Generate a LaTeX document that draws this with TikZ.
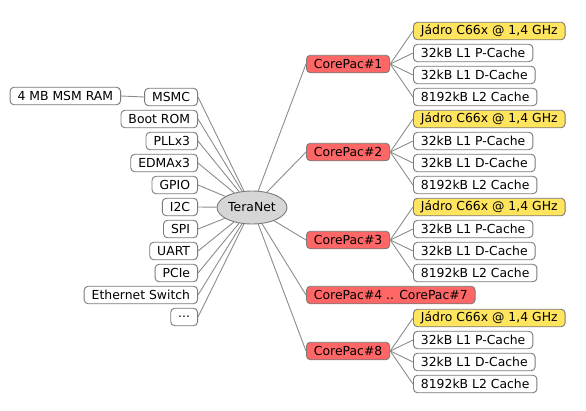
\documentclass[tikz,border=0pt]{standalone}
\usepackage{fontspec}
\setmainfont{DejaVu Sans}
\usepackage{tikz}
\usetikzlibrary{positioning,shapes.geometric}
\definecolor{linegray}{HTML}{8C8C8C}
\definecolor{boxgray}{HTML}{7A7A7A}
\definecolor{corered}{HTML}{FF6666}
\definecolor{jadroyellow}{HTML}{FFE45E}
\definecolor{rootgray}{HTML}{D6D6D6}
\tikzset{
    block/.style = {
        draw=boxgray,
        fill=white,
        shape=rectangle,
        rounded corners=4pt,
        minimum height=17.5pt,
        inner xsep=7.5pt,
        inner ysep=0pt,
        line width=0.9pt,
        font=\fontsize{12.4}{14}\selectfont
    },
    core/.style = {
        block,
        fill=corered
    },
    jadro/.style = {
        block,
        fill=jadroyellow
    },
    root/.style = {
        draw=boxgray,
        fill=rootgray,
        shape=ellipse,
        minimum width=70pt,
        minimum height=33pt,
        inner sep=0pt,
        line width=0.9pt,
        font=\fontsize{12.4}{14}\selectfont
    },
    edge/.style = {
        draw=linegray,
        line width=0.9pt
    },
}
\begin{document}
\begin{tikzpicture}[x=1pt,y=-1pt]
                \useasboundingbox (0,0) rectangle (586,410);

                \node[root] (teranet) at (252,207.5) {TeraNet};

                % left side
                \node[block,anchor=east] (msmc) at (198,97) {MSMC};
                \node[block,anchor=east] (msmram) at (121,96) {4 MB MSM RAM};
                \node[block,anchor=east] (bootrom) at (198,119) {Boot ROM};
                \node[block,anchor=east] (pll) at (198,141) {PLLx3};
                \node[block,anchor=east] (edma) at (198,163) {EDMAx3};
                \node[block,anchor=east] (gpio) at (198,185) {GPIO};
                \node[block,anchor=east] (itwoc) at (198,207) {I2C};
                \node[block,anchor=east] (spi) at (198,229) {SPI};
                \node[block,anchor=east] (uart) at (198,251) {UART};
                \node[block,anchor=east] (pcie) at (198,273) {PCIe};
                \node[block,anchor=east] (eth) at (198,295) {Ethernet Switch};
                \node[block,anchor=east] (dots) at (198,317) {...};

                % right side
                \node[core,anchor=west] (core1) at (306,64) {CorePac\#1};
                \node[core,anchor=west] (core2) at (306,152) {CorePac\#2};
                \node[core,anchor=west] (core3) at (306,240) {CorePac\#3};
                \node[core,anchor=west] (core47) at (306,295) {CorePac\#4 .. CorePac\#7};
                \node[core,anchor=west] (core8) at (306,351) {CorePac\#8};

                \node[jadro,anchor=west] (core1jadro) at (413,31) {Jádro C66x @ 1,4 GHz};
                \node[block,anchor=west] (core1pcache) at (413,53) {32kB L1 P-Cache};
                \node[block,anchor=west] (core1dcache) at (413,75) {32kB L1 D-Cache};
                \node[block,anchor=west] (core1ltwo) at (413,97) {8192kB L2 Cache};

                \node[jadro,anchor=west] (core2jadro) at (413,119) {Jádro C66x @ 1,4 GHz};
                \node[block,anchor=west] (core2pcache) at (413,141) {32kB L1 P-Cache};
                \node[block,anchor=west] (core2dcache) at (413,163) {32kB L1 D-Cache};
                \node[block,anchor=west] (core2ltwo) at (413,185) {8192kB L2 Cache};

                \node[jadro,anchor=west] (core3jadro) at (413,207) {Jádro C66x @ 1,4 GHz};
                \node[block,anchor=west] (core3pcache) at (413,229) {32kB L1 P-Cache};
                \node[block,anchor=west] (core3dcache) at (413,251) {32kB L1 D-Cache};
                \node[block,anchor=west] (core3ltwo) at (413,273) {8192kB L2 Cache};

                \node[jadro,anchor=west] (core8jadro) at (413,318) {Jádro C66x @ 1,4 GHz};
                \node[block,anchor=west] (core8pcache) at (413,340) {32kB L1 P-Cache};
                \node[block,anchor=west] (core8dcache) at (413,362) {32kB L1 D-Cache};
                \node[block,anchor=west] (core8ltwo) at (413,384) {8192kB L2 Cache};

                \path[edge] (msmc.west) -- (msmram.east);
                \path[edge] (teranet) -- (msmc.east);
                \path[edge] (teranet) -- (bootrom.east);
                \path[edge] (teranet) -- (pll.east);
                \path[edge] (teranet) -- (edma.east);
                \path[edge] (teranet) -- (gpio.east);
                \path[edge] (teranet) -- (itwoc.east);
                \path[edge] (teranet) -- (spi.east);
                \path[edge] (teranet) -- (uart.east);
                \path[edge] (teranet) -- (pcie.east);
                \path[edge] (teranet) -- (eth.east);
                \path[edge] (teranet) -- (dots.east);

                \path[edge] (teranet) -- (core1.west);
                \path[edge] (teranet) -- (core2.west);
                \path[edge] (teranet) -- (core3.west);
                \path[edge] (teranet) -- (core47.west);
                \path[edge] (teranet) -- (core8.west);

                \path[edge] (core1.east) -- (core1jadro.west);
                \path[edge] (core1.east) -- (core1pcache.west);
                \path[edge] (core1.east) -- (core1dcache.west);
                \path[edge] (core1.east) -- (core1ltwo.west);
                \path[edge] (core2.east) -- (core2jadro.west);
                \path[edge] (core2.east) -- (core2pcache.west);
                \path[edge] (core2.east) -- (core2dcache.west);
                \path[edge] (core2.east) -- (core2ltwo.west);
                \path[edge] (core3.east) -- (core3jadro.west);
                \path[edge] (core3.east) -- (core3pcache.west);
                \path[edge] (core3.east) -- (core3dcache.west);
                \path[edge] (core3.east) -- (core3ltwo.west);
                \path[edge] (core8.east) -- (core8jadro.west);
                \path[edge] (core8.east) -- (core8pcache.west);
                \path[edge] (core8.east) -- (core8dcache.west);
                \path[edge] (core8.east) -- (core8ltwo.west);
            \end{tikzpicture}
\end{document}
